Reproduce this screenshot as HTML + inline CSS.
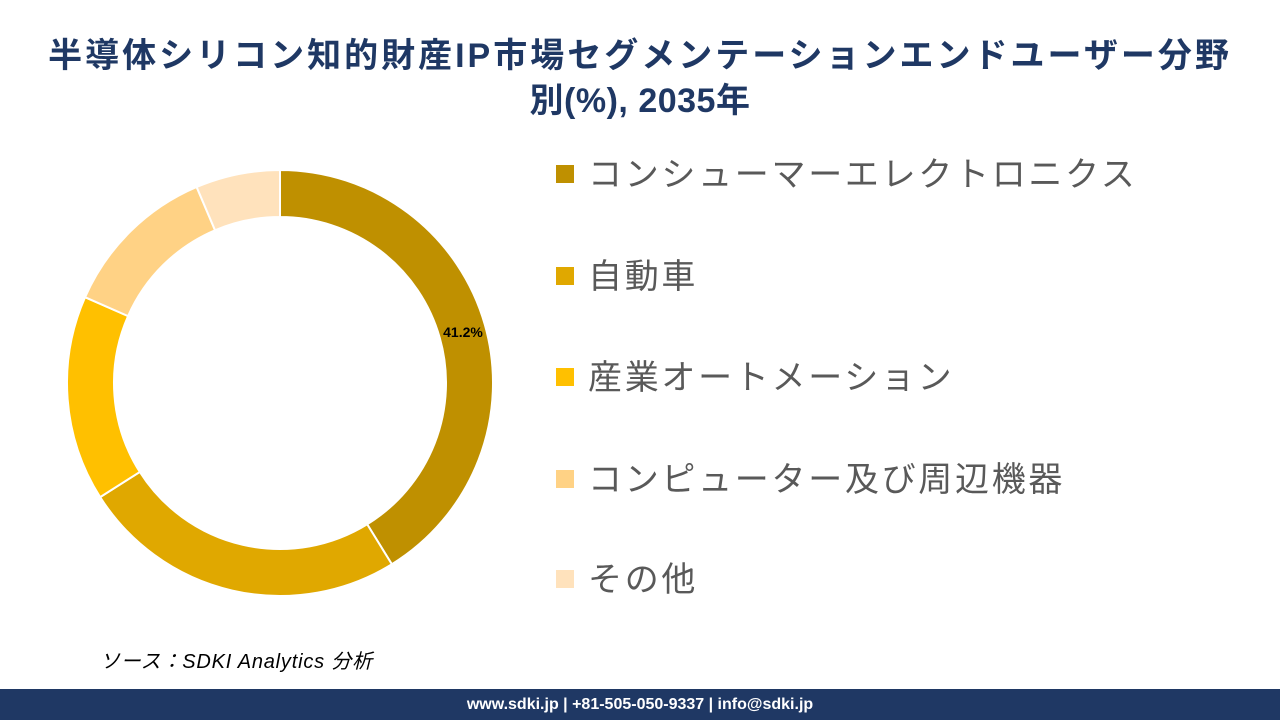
<!DOCTYPE html>
<html><head><meta charset="utf-8"><style>
body{margin:0;width:1280px;height:720px;background:#fff;overflow:hidden;position:relative;font-family:"Liberation Sans","Noto Sans CJK JP",sans-serif}
.t{position:absolute;left:0;width:1280px;text-align:center;color:#1F3864;font-weight:bold;font-size:34px;line-height:45px;letter-spacing:3px}
.lg{position:absolute;left:556px;font-size:34px;color:#595959;line-height:40px;letter-spacing:2.7px}
.lg span{display:inline-block;width:18px;height:18px;margin-right:14px;vertical-align:middle;position:relative;top:-3px}
.src{position:absolute;left:100px;top:645px;font-style:italic;font-size:20px;color:#000;letter-spacing:0.8px}
.ft{position:absolute;left:0;top:689px;width:1280px;height:31px;background:#1F3864;color:#fff;font-weight:bold;font-size:16px;text-align:center;line-height:31px}
</style></head><body>
<div class="t" style="top:34px">半導体シリコン知的財産IP市場セグメンテーションエンドユーザー分野</div>
<div class="t" style="top:79px;letter-spacing:0.5px">別(%), 2035年</div>
<svg style="position:absolute;left:0;top:0" width="1280" height="720">
<g id="d" stroke="#fff" stroke-width="2"></g>
<text x="463" y="337" font-size="14" font-weight="bold" text-anchor="middle" font-family="Liberation Sans, sans-serif" fill="#000">41.2%</text>
</svg>
<div class="lg" style="top:155px"><span style="background:#BF9000"></span>コンシューマーエレクトロニクス</div>
<div class="lg" style="top:257px"><span style="background:#E0A800"></span>自動車</div>
<div class="lg" style="top:358px"><span style="background:#FFC000"></span>産業オートメーション</div>
<div class="lg" style="top:460px"><span style="background:#FFD285"></span>コンピューター及び周辺機器</div>
<div class="lg" style="top:560px"><span style="background:#FFE2BC"></span>その他</div>
<div class="src">ソース：SDKI Analytics 分析</div>
<div class="ft">www.sdki.jp | +81-505-050-9337 | info@sdki.jp</div>
<script>
var cx=280,cy=383,R=213,r=166;
var segs=[[41.2,"#BF9000"],[24.8,"#E0A800"],[15.6,"#FFC000"],[12.0,"#FFD285"],[6.4,"#FFE2BC"]];
var a=0,h="";
function pt(rad,deg){var t=deg*Math.PI/180;return [cx+rad*Math.sin(t),cy-rad*Math.cos(t)];}
segs.forEach(function(s){var b=a+s[0]*3.6;var l=(b-a)>180?1:0;
var p1=pt(R,a),p2=pt(R,b),p3=pt(r,b),p4=pt(r,a);
h+='<path fill="'+s[1]+'" d="M'+p1+' A'+R+','+R+' 0 '+l+' 1 '+p2+' L'+p3+' A'+r+','+r+' 0 '+l+' 0 '+p4+'Z"/>';a=b;});
document.getElementById("d").innerHTML=h;
</script>
</body></html>
